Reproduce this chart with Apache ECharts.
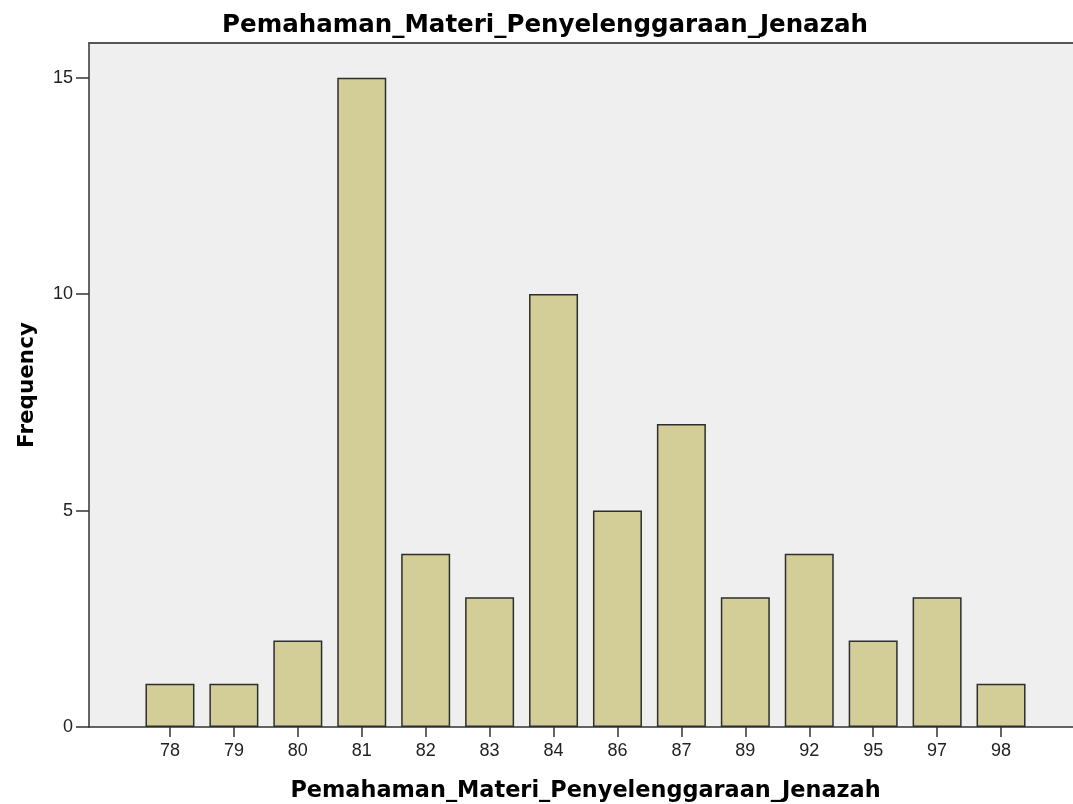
<!DOCTYPE html>
<html>
<head>
<meta charset="utf-8">
<script src="https://cdn.jsdelivr.net/npm/echarts@6/dist/echarts.min.js"></script>
<style>
  html, body { margin: 0; padding: 0; background: #fff; }
  #chart { width: 1073px; height: 804px; }
</style>
</head>
<body>
<div id="chart"></div>
<script>
  // scores and how many students got them
  const scores = ['78', '79', '80', '81', '82', '83', '84', '86', '87', '89', '92', '95', '97', '98']
  const frequency = [1, 1, 2, 15, 4, 3, 10, 5, 7, 3, 4, 2, 3, 1]
  const yTicks = [0, 5, 10, 15]
  const varName = 'Pemahaman_Materi_Penyelenggaraan_Jenazah'

  const font = 'Liberation Sans, Arial, sans-serif'
  const boldFont = 'DejaVu Sans, sans-serif'
  const yMax = 15.8

  const chart = echarts.init(document.getElementById('chart'))
  chart.setOption({
    animation: false,
    textStyle: { fontFamily: font },
    title: {
      text: varName,
      left: 540,
      textAlign: 'center',
      top: 8,
      textStyle: { fontSize: 24.5, fontWeight: 'bold', color: '#000', fontFamily: boldFont }
    },
    grid: [
      // background frame + y axis
      { left: 89, right: 0, top: 43, bottom: 77, show: true, backgroundColor: '#efefef', borderWidth: 0, outerBoundsMode: 'none' },
      // bars sit in an inset band like SPSS does
      { left: 138, right: 40, top: 43, bottom: 77, outerBoundsMode: 'none' }
    ],
    xAxis: [
      {
        gridIndex: 0,
        type: 'value',
        min: 0,
        max: 1,
        position: 'top',
        axisLine: { show: true, onZero: false, lineStyle: { color: '#555', width: 2 } },
        axisTick: { show: false },
        axisLabel: { show: false },
        splitLine: { show: false }
      },
      {
        gridIndex: 0,
        type: 'value',
        min: 0,
        max: 1,
        position: 'bottom',
        axisLine: { show: true, onZero: false, lineStyle: { color: '#333', width: 1.5 } },
        axisTick: { show: false },
        axisLabel: { show: false },
        splitLine: { show: false }
      },
      {
        gridIndex: 1,
        type: 'category',
        data: scores,
        axisLine: { show: false },
        axisTick: { show: true, alignWithLabel: true, length: 10, lineStyle: { color: '#333', width: 1.5 } },
        axisLabel: { color: '#222', fontSize: 18, margin: 15 },
        name: varName,
        nameLocation: 'middle',
        nameGap: 53,
        nameTextStyle: { fontSize: 22.4, fontWeight: 'bold', color: '#000', fontFamily: boldFont }
      }
    ],
    yAxis: [
      {
        gridIndex: 0,
        type: 'value',
        min: 0,
        max: yMax,
        axisLine: { show: true, lineStyle: { color: '#333', width: 1.5 } },
        axisTick: { show: true, length: 13, customValues: yTicks, lineStyle: { color: '#333', width: 1.5 } },
        axisLabel: { color: '#222', fontSize: 18, margin: 16, customValues: yTicks },
        splitLine: { show: false },
        name: 'Frequency',
        nameLocation: 'middle',
        nameGap: 51,
        nameTextStyle: { fontSize: 21.5, fontWeight: 'bold', color: '#000', fontFamily: boldFont }
      },
      {
        gridIndex: 1,
        type: 'value',
        min: 0,
        max: yMax,
        show: false
      }
    ],
    series: [
      {
        type: 'bar',
        xAxisIndex: 2,
        yAxisIndex: 1,
        data: frequency,
        barWidth: 49,
        itemStyle: {
          color: '#d3ce97',
          borderColor: '#2e2e2e',
          borderWidth: 1.5
        }
      }
    ]
  })
</script>
</body>
</html>
